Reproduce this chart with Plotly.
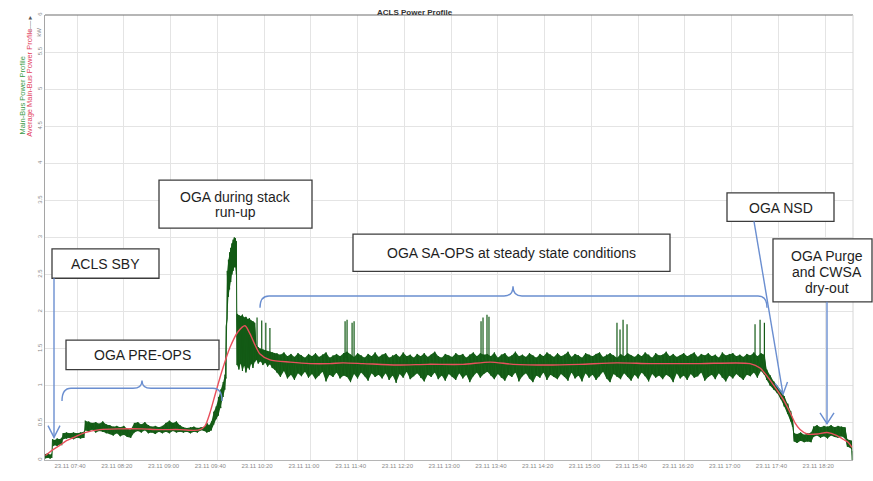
import pandas as pd
import plotly.graph_objects as go

# ---------------- DATA ----------------
DAY = "2023-11-23 07:00"   # x values below are minutes after 07:00 on 23.11

# Main-Bus Power Profile (kW): dense raw signal, given as min/max per time bin
main_minute = [
    13, 15, 17, 18.5, 19, 21, 23, 25, 27, 28, 31, 34, 37, 40, 43, 46,
    47, 50, 53, 56, 59, 62, 65, 68, 71, 74, 77, 80, 83, 86, 89, 92, 95, 98,
    101, 104, 107, 110, 113, 116, 119, 122, 125, 128, 131, 134, 137, 140, 143, 146,
    149, 151, 153, 155,
    157, 159, 161, 163, 165, 166.5, 167.5, 168.5, 169.5, 170.5, 171.5, 172.5,
    173.5, 174.5, 175.5, 176.3, 176.9,
    178.5, 180, 181.5, 183, 184.5, 186, 187.5, 189, 190.5, 192,
    193.5, 195, 197, 199, 201, 203, 205, 207, 209,
    211, 214, 217, 220, 223, 226, 229, 232, 235, 238,
    241, 244, 247, 250, 253, 256, 259, 262, 265, 268,
    271, 274, 277, 280, 283, 286, 289, 292, 295, 298,
    301, 304, 307, 310, 313, 316, 319, 322, 325, 328,
    331, 334, 337, 340, 343, 346, 349, 352, 355, 358,
    361, 364, 367, 370, 373, 376, 379, 382, 385, 388,
    391, 394, 397, 400, 403, 406, 409, 412, 415, 418,
    421, 424, 427, 430, 433, 436, 439, 442, 445, 448,
    451, 454, 457, 460, 463, 466, 469, 472, 475, 478,
    481, 484, 487, 490, 493, 496, 499, 502, 505, 508,
    511, 514, 517, 520, 523, 526, 529, 532, 535, 538,
    541, 544, 547, 550, 553, 556, 559, 562, 565, 568,
    571, 574, 577, 580, 583, 586, 589, 592, 595, 598,
    601, 604, 607, 610, 613, 616, 619, 622, 625, 628,
    630, 633, 636, 639, 642, 645, 648, 650.5, 652,
    653.5, 656, 659, 662, 665, 668,
    670, 673, 676, 679, 682, 685, 688, 691, 694, 697,
    699, 701, 702.5, 703.2,
]
main_low = [
    0.02, 0.03, 0.02, 0.03, 0.18, 0.20, 0.19, 0.21, 0.20, 0.28, 0.29, 0.30, 0.28, 0.30, 0.29, 0.30,
    0.40, 0.38, 0.41, 0.37, 0.39, 0.38, 0.36, 0.35, 0.33, 0.36, 0.32, 0.34, 0.31, 0.30, 0.37, 0.39, 0.37, 0.40,
    0.36, 0.37, 0.35, 0.38, 0.36, 0.38, 0.36, 0.39, 0.37, 0.38, 0.37, 0.38, 0.36, 0.38, 0.37, 0.40,
    0.39, 0.37, 0.38, 0.40,
    0.48, 0.55, 0.60, 0.70, 0.85, 0.95, 1.10, 1.90, 2.20, 2.30, 2.40, 2.50,
    2.55, 2.60, 2.60, 2.50, 1.28,
    1.22, 1.30, 1.20, 1.27, 1.18, 1.25, 1.22, 1.30, 1.24, 1.32,
    1.35, 1.30, 1.33, 1.28, 1.31, 1.26, 1.29, 1.24, 1.22,
    1.18, 1.12, 1.20, 1.10, 1.15, 1.08, 1.17, 1.13, 1.19, 1.11,
    1.16, 1.09, 1.14, 1.19, 1.06, 1.15, 1.12, 1.18, 1.10, 1.14,
    1.12, 1.05, 1.16, 1.10, 1.18, 1.13, 1.07, 1.17, 1.12, 1.15,
    1.10, 1.17, 1.08, 1.14, 1.04, 1.16, 1.11, 1.19, 1.09, 1.13,
    1.17, 1.11, 1.06, 1.15, 1.12, 1.18, 1.09, 1.14, 1.07, 1.16,
    1.12, 1.08, 1.17, 1.10, 1.15, 1.05, 1.13, 1.18, 1.11, 1.16,
    1.19, 1.14, 1.09, 1.16, 1.11, 1.07, 1.15, 1.12, 1.18, 1.06,
    1.13, 1.17, 1.10, 1.05, 1.14, 1.11, 1.18, 1.08, 1.15, 1.12,
    1.09, 1.16, 1.12, 1.07, 1.18, 1.10, 1.14, 1.06, 1.17, 1.11,
    1.15, 1.08, 1.13, 1.19, 1.10, 1.05, 1.16, 1.12, 1.09, 1.17,
    1.12, 1.07, 1.15, 1.10, 1.18, 1.13, 1.06, 1.16, 1.11, 1.14,
    1.09, 1.15, 1.12, 1.05, 1.17, 1.10, 1.14, 1.08, 1.16, 1.11,
    1.13, 1.18, 1.07, 1.12, 1.15, 1.09, 1.17, 1.11, 1.06, 1.14,
    1.10, 1.16, 1.12, 1.08, 1.15, 1.13, 1.18, 1.11, 1.20, 1.15,
    1.08, 1.00, 0.95, 0.90, 0.82, 0.72, 0.62, 0.52, 0.45,
    0.25, 0.23, 0.26, 0.24, 0.25, 0.24,
    0.31, 0.33, 0.30, 0.32, 0.29, 0.33, 0.31, 0.30, 0.32, 0.29,
    0.18, 0.17, 0.15, 0.00,
]
main_high = [
    0.08, 0.09, 0.07, 0.09, 0.28, 0.27, 0.29, 0.28, 0.30, 0.36, 0.37, 0.36, 0.37, 0.36, 0.37, 0.38,
    0.53, 0.52, 0.50, 0.51, 0.49, 0.52, 0.48, 0.47, 0.45, 0.46, 0.44, 0.46, 0.42, 0.41, 0.50, 0.51, 0.48, 0.51,
    0.47, 0.45, 0.46, 0.44, 0.46, 0.50, 0.53, 0.50, 0.52, 0.47, 0.44, 0.43, 0.44, 0.45, 0.43, 0.44,
    0.45, 0.50, 0.47, 0.52,
    0.65, 0.72, 0.85, 0.95, 1.05, 1.15, 1.80, 2.55, 2.70, 2.80, 2.86, 2.92,
    2.97, 3.00, 2.99, 2.95, 1.97,
    1.95, 1.94, 1.96, 1.92, 1.93, 1.90, 1.91, 1.88, 1.87, 1.85,
    1.55, 1.52, 1.50, 1.49, 1.48, 1.47, 1.46, 1.45, 1.44,
    1.44, 1.42, 1.45, 1.40, 1.43, 1.39, 1.44, 1.41, 1.38, 1.43,
    1.40, 1.44, 1.39, 1.42, 1.45, 1.38, 1.41, 1.43, 1.40, 1.44,
    1.46, 1.42, 1.39, 1.44, 1.41, 1.38, 1.43, 1.40, 1.45, 1.39,
    1.42, 1.44, 1.38, 1.41, 1.43, 1.39, 1.45, 1.40, 1.42, 1.38,
    1.43, 1.40, 1.44, 1.39, 1.42, 1.46, 1.40, 1.38, 1.43, 1.41,
    1.39, 1.44, 1.41, 1.43, 1.38, 1.42, 1.45, 1.40, 1.44, 1.42,
    1.43, 1.40, 1.45, 1.38, 1.42, 1.44, 1.39, 1.41, 1.46, 1.40,
    1.42, 1.39, 1.44, 1.41, 1.38, 1.43, 1.40, 1.45, 1.42, 1.39,
    1.44, 1.40, 1.42, 1.46, 1.39, 1.43, 1.41, 1.38, 1.44, 1.42,
    1.40, 1.43, 1.45, 1.39, 1.42, 1.44, 1.41, 1.38, 1.43, 1.40,
    1.44, 1.41, 1.39, 1.43, 1.40, 1.45, 1.42, 1.38, 1.44, 1.41,
    1.42, 1.46, 1.40, 1.43, 1.39, 1.41, 1.44, 1.40, 1.42, 1.45,
    1.39, 1.43, 1.41, 1.44, 1.40, 1.42, 1.38, 1.45, 1.41, 1.43,
    1.44, 1.40, 1.42, 1.39, 1.43, 1.41, 1.45, 1.40, 1.44, 1.42,
    1.22, 1.14, 1.06, 1.00, 0.94, 0.86, 0.76, 0.66, 0.58,
    0.36, 0.35, 0.37, 0.34, 0.36, 0.37,
    0.45, 0.47, 0.44, 0.46, 0.45, 0.47, 0.44, 0.46, 0.45, 0.44,
    0.28, 0.27, 0.26, 0.12,
]

# short transient spikes of the main-bus signal
spike_minute = [194.0, 198.0, 201.5, 205.0, 269.3, 271.0, 275.3, 277.0,
                385.6, 387.3, 390.7, 392.4, 501.9, 504.5, 507.1, 510.5,
                620.0, 624.3, 628.0]
spike_base = [1.45, 1.45, 1.42, 1.40, 1.38, 1.38, 1.38, 1.38,
              1.38, 1.38, 1.38, 1.38, 1.38, 1.38, 1.38, 1.38,
              1.38, 1.38, 1.38]
spike_peak = [1.92, 1.88, 1.85, 1.78, 1.87, 1.89, 1.85, 1.87,
              1.87, 1.92, 1.96, 1.93, 1.85, 1.76, 1.89, 1.83,
              1.83, 1.89, 1.85]

# Average Main-Bus Power Profile (kW)
avg_minute = [13, 18.6, 25.5, 31, 36.6, 46.8, 59.7, 77, 95, 110, 128, 140, 145.2,
              149.5, 153.8, 158.1, 164.0, 170.9, 177.7, 183.7, 188.0, 192.3, 196.5,
              205.1, 222.2, 239.3, 256.4, 267.5, 284.7, 313.7, 340, 370.2, 393.3,
              413.0, 442.1, 470, 501.9, 530.2, 573.0, 615.7, 624.3, 630.3, 635.4,
              644.0, 650.0, 654.2, 658.5, 664.5, 673.0, 681.6, 690.1, 695.3, 699.6, 703.0]
avg_kw = [0.06, 0.13, 0.20, 0.26, 0.30, 0.37, 0.41, 0.42, 0.42, 0.41, 0.41, 0.40, 0.41,
          0.46, 0.64, 0.88, 1.20, 1.52, 1.73, 1.81, 1.70, 1.55, 1.43,
          1.35, 1.32, 1.30, 1.30, 1.31, 1.30, 1.28, 1.29, 1.29, 1.32,
          1.29, 1.28, 1.29, 1.31, 1.30, 1.30, 1.30, 1.24, 1.13, 1.02,
          0.82, 0.64, 0.50, 0.41, 0.35, 0.35, 0.37, 0.33, 0.28, 0.24, 0.17]

x_tick_times = ["07:40", "08:20", "09:00", "09:40", "10:20", "11:00", "11:40", "12:20",
                "13:00", "13:40", "14:20", "15:00", "15:40", "16:20", "17:00", "17:40", "18:20"]
x_tick_labels = ["23.11 " + t for t in x_tick_times]
x_range = ["07:12:36", "18:43:48"]
y_ticks = [0, 0.5, 1, 1.5, 2, 2.5, 3, 3.5, 4, 4.5, 5, 5.5, 6]

# ---------------- BUILD ----------------
base = pd.Timestamp(DAY)
day = base.strftime("%Y-%m-%d ")


def at(minutes):
    return list(base + pd.to_timedelta(minutes, unit="min"))


t_main = at(main_minute)
t_spk = at(spike_minute)
t_avg = at(avg_minute)

GREEN_FILL = "#17611a"
GREEN_LINE = "#135a15"
RED = "#e8505c"
BLUE = "#6a8ed0"
FONT = "Liberation Sans, Arial, sans-serif"

fig = go.Figure()

# dense band of the raw main-bus signal
fig.add_trace(go.Scatter(
    x=t_main + t_main[::-1], y=main_high + main_low[::-1],
    fill="toself", fillcolor=GREEN_FILL, mode="lines",
    line=dict(width=0, color=GREEN_FILL), hoverinfo="skip"))

zz_x, zz_y = [], []
for t, lo, hi in zip(t_main, main_low, main_high):
    zz_x += [t, t]
    zz_y += [lo, hi]
fig.add_trace(go.Scatter(x=zz_x, y=zz_y, mode="lines",
                         line=dict(width=1, color=GREEN_LINE),
                         name="Main-Bus Power Profile"))

sp_x, sp_y = [], []
for t, b0, pk in zip(t_spk, spike_base, spike_peak):
    sp_x += [t, t, None]
    sp_y += [b0, pk, None]
fig.add_trace(go.Scatter(x=sp_x, y=sp_y, mode="lines",
                         line=dict(width=1.2, color=GREEN_LINE), hoverinfo="skip"))

fig.add_trace(go.Scatter(x=t_avg, y=avg_kw, mode="lines",
                         line=dict(width=1.4, color=RED, shape="spline", smoothing=0.7),
                         name="Average Main-Bus Power Profile"))

# ---------------- LAYOUT ----------------
W, H = 873, 481
ML, MR, MT, MB = 45, 20, 15, 13
PW, PH = W - ML - MR, H - MT - MB


def fx(px):
    return (px - ML) / PW


def fy(py):
    return (H - MB - py) / PH


def pt(px, py):
    return f"{fx(px):.5f},{fy(py):.5f}"


shapes = []
annotations = []

# frame lines
shapes.append(dict(type="line", xref="paper", yref="paper", x0=0, x1=1, y0=1, y1=1,
                   line=dict(color="#6e6e6e", width=1.2)))
shapes.append(dict(type="line", xref="paper", yref="paper", x0=1, x1=1, y0=0, y1=1,
                   line=dict(color="#d6d6d6", width=1)))

# annotation boxes (pixel rectangles: x0, x1, ytop, ybottom)
boxes = [(52, 159, 253, 283), (66, 219, 346, 376), (159, 312, 183, 232),
         (353, 670, 238, 276), (727, 834, 196, 225), (773, 872, 243, 307)]
for x0, x1, y0, y1 in boxes:
    shapes.append(dict(type="rect", xref="paper", yref="paper", layer="above",
                       x0=fx(x0), x1=fx(x1), y0=fy(y1), y1=fy(y0),
                       line=dict(color="#3c3c3c", width=1.3), fillcolor="white"))

texts = [("ACLS SBY", 105.5, 268), ("OGA PRE-OPS", 142.5, 361),
         ("OGA during stack", 235.5, 200), ("run-up", 235.5, 216),
         ("OGA SA-OPS at steady state conditions", 511.5, 257),
         ("OGA NSD", 780.5, 211),
         ("OGA Purge", 827, 260), ("and CWSA", 827, 277), ("dry-out", 827, 293)]
for txt, cx, cy in texts:
    annotations.append(dict(text=txt, xref="paper", yref="paper", x=fx(cx), y=fy(cy),
                            xanchor="center", yanchor="middle", showarrow=False,
                            font=dict(family=FONT, size=14, color="#1e1e1e")))


def brace(x0, x1, xm, yline, yend, ytip, r=9):
    return ("M " + pt(x0, yend) + " Q " + pt(x0, yline) + " " + pt(x0 + r, yline)
            + " L " + pt(xm - r, yline) + " Q " + pt(xm, yline) + " " + pt(xm, ytip)
            + " Q " + pt(xm, yline) + " " + pt(xm + r, yline)
            + " L " + pt(x1 - r, yline) + " Q " + pt(x1, yline) + " " + pt(x1, yend))


for p in [brace(62, 222, 142, 395, 408, 387), brace(260, 767, 513, 301, 313, 291)]:
    shapes.append(dict(type="path", xref="paper", yref="paper", path=p,
                       line=dict(color=BLUE, width=1.4)))

arrows = [
    [(54, 283), (54, 445)], [(48, 433), (54, 445), (60, 433)],
    [(754, 225), (783, 401)], [(775, 390), (783, 401), (787.5, 388.5)],
    [(827, 307), (827, 431)], [(820, 420), (827, 431), (834, 420)],
]
for pts_ in arrows:
    p = "M " + " L ".join(pt(a, b) for a, b in pts_)
    shapes.append(dict(type="path", xref="paper", yref="paper", path=p,
                       line=dict(color=BLUE, width=1.4)))

# title and axis titles
annotations.append(dict(text="<b>ACLS Power Profile</b>", xref="paper", yref="paper",
                        x=fx(415), y=fy(12), xanchor="center", yanchor="middle",
                        showarrow=False, font=dict(family=FONT, size=8, color="#333333")))
annotations.append(dict(text="Main-Bus Power Profile", xref="paper", yref="paper",
                        x=fx(23), y=fy(97), textangle=-90, showarrow=False,
                        xanchor="center", yanchor="middle",
                        font=dict(family=FONT, size=7.5, color="#3a9a46")))
annotations.append(dict(text="Average Main-Bus Power Profile", xref="paper", yref="paper",
                        x=fx(30), y=fy(84), textangle=-90, showarrow=False,
                        xanchor="center", yanchor="middle",
                        font=dict(family=FONT, size=7.5, color="#e2405c")))
annotations.append(dict(text="——►", xref="paper", yref="paper",
                        x=fx(30), y=fy(24), textangle=-90, showarrow=False,
                        xanchor="center", yanchor="middle",
                        font=dict(family=FONT, size=6, color="#555555")))
annotations.append(dict(text="kW", xref="paper", yref="paper",
                        x=fx(39), y=fy(33), textangle=-90, showarrow=False,
                        xanchor="center", yanchor="middle",
                        font=dict(family=FONT, size=6, color="#8a8a8a")))

fig.update_layout(
    width=W, height=H, margin=dict(l=ML, r=MR, t=MT, b=MB),
    paper_bgcolor="white", plot_bgcolor="white", showlegend=False,
    font=dict(family=FONT),
    shapes=shapes, annotations=annotations,
    xaxis=dict(type="date", range=[day + x_range[0], day + x_range[1]],
               tickvals=[day + t for t in x_tick_times], ticktext=x_tick_labels,
               tickfont=dict(size=6, color="#8a8a8a"), ticklabelshift=-7,
               showgrid=True, gridcolor="#e4e4e4", gridwidth=1,
               showline=True, linecolor="#b5b5b5", linewidth=1, zeroline=False),
    yaxis=dict(range=[0, 6], tickvals=y_ticks, tickangle=-90,
               tickfont=dict(size=6, color="#8a8a8a"),
               showgrid=True, gridcolor="#e4e4e4", gridwidth=1,
               showline=True, linecolor="#a5a5a5", linewidth=1, zeroline=False),
)

fig.write_html("out.html",
               config={"displayModeBar": False},
               post_script="document.body.style.margin='0px';"
                           "document.body.style.overflow='hidden';")
